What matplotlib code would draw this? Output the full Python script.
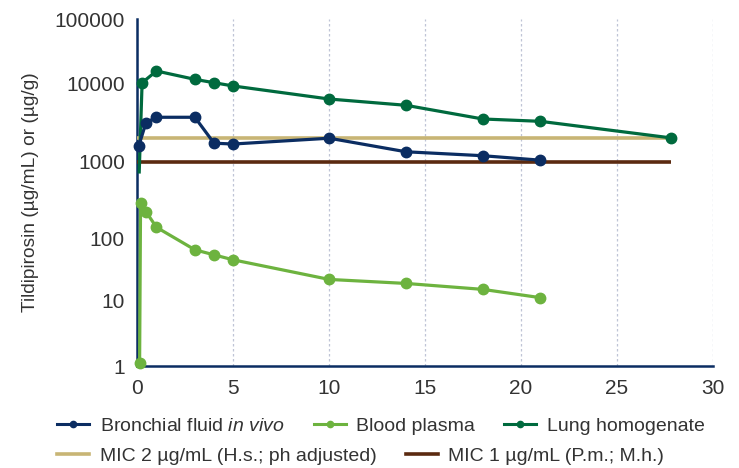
import numpy as np
import matplotlib
matplotlib.use("Agg")
import matplotlib.pyplot as plt
from matplotlib.lines import Line2D

plt.rcParams['font.family'] = ['Liberation Sans', 'DejaVu Sans']
plt.rcParams['mathtext.fontset'] = 'custom'
plt.rcParams['mathtext.it'] = 'Liberation Sans:italic'
plt.rcParams['mathtext.rm'] = 'Liberation Sans'

# ---- data ----
bronchial_t = [0.08, 0.45, 1, 3, 4, 5, 10, 14, 18, 21]
bronchial = [1590, 3120, 3660, 3660, 1710, 1670, 1980, 1330, 1185, 1040]

plasma_t = [0.12, 0.17, 0.45, 1, 3, 4, 5, 10, 14, 18, 21]
plasma = [1.1, 290, 221, 138, 65, 54, 45, 22, 19, 15.3, 11.3]

lung_t = [0.1, 0.25, 1, 3, 4, 5, 10, 14, 18, 21, 27.8]
lung = [730, 10100, 15400, 11400, 10100, 9160, 6250, 5200, 3480, 3250, 2000]

mic_t = [0, 27.8]
mic2 = [2000, 2000]
mic1 = [1000, 1000]

x_ticks = [0, 5, 10, 15, 20, 25, 30]
y_ticks = [1, 10, 100, 1000, 10000, 100000]
y_ticklabels = ['1', '10', '100', '1000', '10000', '100000']

# axis spacing per decade as drawn in the original (non-uniform log axis)
decade_pos = [0, 65, 128, 204.5, 283, 347]
decade_log = [0, 1, 2, 3, 4, 5]


def fwd(v):
    v = np.clip(np.asarray(v, dtype=float), 1e-3, None)
    return np.interp(np.log10(v), decade_log, decade_pos, left=-1, right=348)


def inv(h):
    return 10 ** np.interp(np.asarray(h, dtype=float), decade_pos, decade_log)


c_bron = '#0B2D62'
c_plasma = '#6DB33F'
c_lung = '#006A3E'
c_mic2 = '#C8B575'
c_mic1 = '#5B2A10'
c_axis = '#0B2D62'
c_text = '#333333'

fig = plt.figure(figsize=(7.39, 4.68), dpi=100)
ax = fig.add_axes([137.3 / 739, (468 - 366) / 468, (713 - 137.3) / 739, 347 / 468])
ax.set_yscale('function', functions=(fwd, inv))
ax.set_xlim(0, 30)
ax.set_ylim(1, 100000)

ax.set_xticks(x_ticks)
ax.set_yticks(y_ticks)
ax.set_yticklabels(y_ticklabels)
ax.yaxis.set_minor_locator(matplotlib.ticker.NullLocator())
ax.tick_params(length=0, labelsize=15, colors=c_text)
ax.tick_params(axis='y', pad=9)
ax.tick_params(axis='x', pad=9)

for s in ['top', 'right']:
    ax.spines[s].set_visible(False)
for s in ['left', 'bottom']:
    ax.spines[s].set_color(c_axis)
    ax.spines[s].set_linewidth(1.8)
    ax.spines[s].set_zorder(2)

ax.grid(axis='x', color='#BFC4D6', linestyle=(0, (2, 2)), linewidth=0.9)
ax.set_axisbelow(True)

lw = 2.3
ms = 7.5
ax.plot(mic_t, mic2, color=c_mic2, lw=2.6, solid_capstyle='butt', zorder=3, clip_on=False)
ax.plot(mic_t, mic1, color=c_mic1, lw=2.6, solid_capstyle='butt', zorder=3, clip_on=False)
ax.plot(lung_t, lung, color=c_lung, lw=lw, marker='o', ms=ms, markevery=slice(1, None),
        zorder=4, clip_on=False)
ax.plot(plasma_t, plasma, color=c_plasma, lw=lw, marker='o', ms=ms, zorder=5, clip_on=False)
ax.plot(bronchial_t, bronchial, color=c_bron, lw=lw, marker='o', ms=ms, zorder=6, clip_on=False)

ax.set_ylabel('Tildipirosin (µg/mL) or (µg/g)', fontsize=13.8, color=c_text, labelpad=11)

leg_kw = dict(frameon=False, fontsize=14, borderpad=0, borderaxespad=0,
              handlelength=1.65, handletextpad=0.55, columnspacing=1.5, labelcolor=c_text)
h1 = [Line2D([], [], color=c_bron, lw=2.2, marker='o', ms=4.5),
      Line2D([], [], color=c_plasma, lw=2.2, marker='o', ms=4.5),
      Line2D([], [], color=c_lung, lw=2.2, marker='o', ms=4.5)]
l1 = ['Bronchial fluid $\\it{in\\ vivo}$', 'Blood plasma', 'Lung homogenate']
leg1 = fig.legend(h1, l1, loc='center left', bbox_to_anchor=(57 / 739, (468 - 426) / 468),
                  ncol=3, **leg_kw)
h2 = [Line2D([], [], color=c_mic2, lw=2.6), Line2D([], [], color=c_mic1, lw=2.6)]
l2 = ['MIC 2 µg/mL (H.s.; ph adjusted)', 'MIC 1 µg/mL (P.m.; M.h.)']
leg2 = fig.legend(h2, l2, loc='center left', bbox_to_anchor=(57 / 739, (468 - 456) / 468),
                  ncol=2, **leg_kw)

fig.savefig('out.png', dpi=100)
